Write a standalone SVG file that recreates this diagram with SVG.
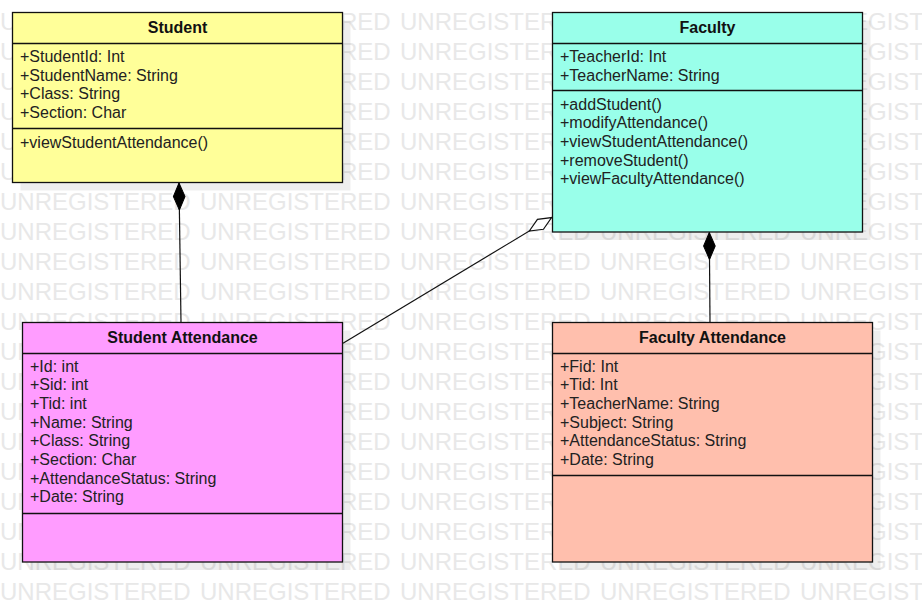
<svg xmlns="http://www.w3.org/2000/svg" width="922" height="612" viewBox="0 0 922 612">
<style>
.wm{font-family:"Liberation Sans",Arial,sans-serif;font-size:24px;fill:#e8e8e8}
.box{stroke:#111;stroke-width:1.3}
.shadow{fill:#000;fill-opacity:0.065}
.div{stroke:#111;stroke-width:1.3}
.title{font-family:"Liberation Sans",Arial,sans-serif;font-size:16px;font-weight:bold;fill:#111;text-anchor:middle}
.attr{font-family:"Liberation Sans",Arial,sans-serif;font-size:16px;fill:#222}
.conn{stroke:#111;stroke-width:1.2;fill:none}
</style>
<defs>
<marker id="filledDiamond" viewBox="0 -7 28 14" refX="27" refY="0" markerWidth="28" markerHeight="14" markerUnits="userSpaceOnUse" orient="auto">
<path d="M0,0 L13.5,-5.8 L27,0 L13.5,5.8 Z" fill="#000" stroke="#000" stroke-width="1"/>
</marker>
<marker id="hollowDiamond" viewBox="0 -7 28 14" refX="27" refY="0" markerWidth="28" markerHeight="14" markerUnits="userSpaceOnUse" orient="auto">
<path d="M0.5,0 L13.5,-5.8 L26.5,0 L13.5,5.8 Z" fill="#fff" stroke="#111" stroke-width="1.2"/>
</marker>
</defs>
<rect width="922" height="612" fill="#fff"/>
<g id="watermark" class="wm">
<text y="29.5"><tspan x="0">UNREGISTERED</tspan><tspan x="200">UNREGISTERED</tspan><tspan x="400">UNREGISTERED</tspan><tspan x="600">UNREGISTERED</tspan><tspan x="800">UNREGISTERED</tspan></text>
<text y="59.5"><tspan x="0">UNREGISTERED</tspan><tspan x="200">UNREGISTERED</tspan><tspan x="400">UNREGISTERED</tspan><tspan x="600">UNREGISTERED</tspan><tspan x="800">UNREGISTERED</tspan></text>
<text y="89.5"><tspan x="0">UNREGISTERED</tspan><tspan x="200">UNREGISTERED</tspan><tspan x="400">UNREGISTERED</tspan><tspan x="600">UNREGISTERED</tspan><tspan x="800">UNREGISTERED</tspan></text>
<text y="119.5"><tspan x="0">UNREGISTERED</tspan><tspan x="200">UNREGISTERED</tspan><tspan x="400">UNREGISTERED</tspan><tspan x="600">UNREGISTERED</tspan><tspan x="800">UNREGISTERED</tspan></text>
<text y="149.5"><tspan x="0">UNREGISTERED</tspan><tspan x="200">UNREGISTERED</tspan><tspan x="400">UNREGISTERED</tspan><tspan x="600">UNREGISTERED</tspan><tspan x="800">UNREGISTERED</tspan></text>
<text y="179.5"><tspan x="0">UNREGISTERED</tspan><tspan x="200">UNREGISTERED</tspan><tspan x="400">UNREGISTERED</tspan><tspan x="600">UNREGISTERED</tspan><tspan x="800">UNREGISTERED</tspan></text>
<text y="209.5"><tspan x="0">UNREGISTERED</tspan><tspan x="200">UNREGISTERED</tspan><tspan x="400">UNREGISTERED</tspan><tspan x="600">UNREGISTERED</tspan><tspan x="800">UNREGISTERED</tspan></text>
<text y="239.5"><tspan x="0">UNREGISTERED</tspan><tspan x="200">UNREGISTERED</tspan><tspan x="400">UNREGISTERED</tspan><tspan x="600">UNREGISTERED</tspan><tspan x="800">UNREGISTERED</tspan></text>
<text y="269.5"><tspan x="0">UNREGISTERED</tspan><tspan x="200">UNREGISTERED</tspan><tspan x="400">UNREGISTERED</tspan><tspan x="600">UNREGISTERED</tspan><tspan x="800">UNREGISTERED</tspan></text>
<text y="299.5"><tspan x="0">UNREGISTERED</tspan><tspan x="200">UNREGISTERED</tspan><tspan x="400">UNREGISTERED</tspan><tspan x="600">UNREGISTERED</tspan><tspan x="800">UNREGISTERED</tspan></text>
<text y="329.5"><tspan x="0">UNREGISTERED</tspan><tspan x="200">UNREGISTERED</tspan><tspan x="400">UNREGISTERED</tspan><tspan x="600">UNREGISTERED</tspan><tspan x="800">UNREGISTERED</tspan></text>
<text y="359.5"><tspan x="0">UNREGISTERED</tspan><tspan x="200">UNREGISTERED</tspan><tspan x="400">UNREGISTERED</tspan><tspan x="600">UNREGISTERED</tspan><tspan x="800">UNREGISTERED</tspan></text>
<text y="389.5"><tspan x="0">UNREGISTERED</tspan><tspan x="200">UNREGISTERED</tspan><tspan x="400">UNREGISTERED</tspan><tspan x="600">UNREGISTERED</tspan><tspan x="800">UNREGISTERED</tspan></text>
<text y="419.5"><tspan x="0">UNREGISTERED</tspan><tspan x="200">UNREGISTERED</tspan><tspan x="400">UNREGISTERED</tspan><tspan x="600">UNREGISTERED</tspan><tspan x="800">UNREGISTERED</tspan></text>
<text y="449.5"><tspan x="0">UNREGISTERED</tspan><tspan x="200">UNREGISTERED</tspan><tspan x="400">UNREGISTERED</tspan><tspan x="600">UNREGISTERED</tspan><tspan x="800">UNREGISTERED</tspan></text>
<text y="479.5"><tspan x="0">UNREGISTERED</tspan><tspan x="200">UNREGISTERED</tspan><tspan x="400">UNREGISTERED</tspan><tspan x="600">UNREGISTERED</tspan><tspan x="800">UNREGISTERED</tspan></text>
<text y="509.5"><tspan x="0">UNREGISTERED</tspan><tspan x="200">UNREGISTERED</tspan><tspan x="400">UNREGISTERED</tspan><tspan x="600">UNREGISTERED</tspan><tspan x="800">UNREGISTERED</tspan></text>
<text y="539.5"><tspan x="0">UNREGISTERED</tspan><tspan x="200">UNREGISTERED</tspan><tspan x="400">UNREGISTERED</tspan><tspan x="600">UNREGISTERED</tspan><tspan x="800">UNREGISTERED</tspan></text>
<text y="569.5"><tspan x="0">UNREGISTERED</tspan><tspan x="200">UNREGISTERED</tspan><tspan x="400">UNREGISTERED</tspan><tspan x="600">UNREGISTERED</tspan><tspan x="800">UNREGISTERED</tspan></text>
<text y="599.5"><tspan x="0">UNREGISTERED</tspan><tspan x="200">UNREGISTERED</tspan><tspan x="400">UNREGISTERED</tspan><tspan x="600">UNREGISTERED</tspan><tspan x="800">UNREGISTERED</tspan></text>
</g>
<g id="shadows">
<rect class="shadow" x="20.5" y="20.5" width="330" height="170"/>
<rect class="shadow" x="560.5" y="20.5" width="310" height="219.5"/>
<rect class="shadow" x="30.5" y="330.5" width="320" height="239.5"/>
<rect class="shadow" x="560.5" y="330.5" width="320" height="239.5"/>
</g>
<g id="connectors">
<path class="conn" d="M181,322.5 L179,183" marker-end="url(#filledDiamond)"/>
<path class="conn" d="M710,322.5 L709.3,232.5" marker-end="url(#filledDiamond)"/>
<path class="conn" d="M343,343.3 L552,217.3" marker-end="url(#hollowDiamond)"/>
</g>
<g id="student">
<rect class="box" x="12.5" y="12.5" width="330" height="170" fill="#ffff99"/>
<line class="div" x1="12.5" y1="43.5" x2="342.5" y2="43.5"/>
<line class="div" x1="12.5" y1="128.5" x2="342.5" y2="128.5"/>
<text class="title" x="177.5" y="33">Student</text>
<text class="attr" x="20" y="62">+StudentId: Int</text>
<text class="attr" x="20" y="80.7">+StudentName: String</text>
<text class="attr" x="20" y="99.3">+Class: String</text>
<text class="attr" x="20" y="118">+Section: Char</text>
<text class="attr" x="20" y="147.5">+viewStudentAttendance()</text>
</g>
<g id="faculty">
<rect class="box" x="552.5" y="12.5" width="310" height="219.5" fill="#99ffea"/>
<line class="div" x1="552.5" y1="43.5" x2="862.5" y2="43.5"/>
<line class="div" x1="552.5" y1="90.5" x2="862.5" y2="90.5"/>
<text class="title" x="707.5" y="33">Faculty</text>
<text class="attr" x="560" y="62">+TeacherId: Int</text>
<text class="attr" x="560" y="80.7">+TeacherName: String</text>
<text class="attr" x="560" y="109.5">+addStudent()</text>
<text class="attr" x="560" y="128.2">+modifyAttendance()</text>
<text class="attr" x="560" y="146.9">+viewStudentAttendance()</text>
<text class="attr" x="560" y="165.6">+removeStudent()</text>
<text class="attr" x="560" y="184.3">+viewFacultyAttendance()</text>
</g>
<g id="student-attendance">
<rect class="box" x="22.5" y="322.5" width="320" height="239.5" fill="#ff9cff"/>
<line class="div" x1="22.5" y1="353.5" x2="342.5" y2="353.5"/>
<line class="div" x1="22.5" y1="513.5" x2="342.5" y2="513.5"/>
<text class="title" x="182.5" y="343">Student Attendance</text>
<text class="attr" x="30" y="371.7">+Id: int</text>
<text class="attr" x="30" y="390.4">+Sid: int</text>
<text class="attr" x="30" y="409">+Tid: int</text>
<text class="attr" x="30" y="427.7">+Name: String</text>
<text class="attr" x="30" y="446.4">+Class: String</text>
<text class="attr" x="30" y="465">+Section: Char</text>
<text class="attr" x="30" y="483.7">+AttendanceStatus: String</text>
<text class="attr" x="30" y="502.4">+Date: String</text>
</g>
<g id="faculty-attendance">
<rect class="box" x="552.5" y="322.5" width="320" height="239.5" fill="#ffbfad"/>
<line class="div" x1="552.5" y1="353.5" x2="872.5" y2="353.5"/>
<line class="div" x1="552.5" y1="475.5" x2="872.5" y2="475.5"/>
<text class="title" x="712.5" y="343">Faculty Attendance</text>
<text class="attr" x="560" y="371.7">+Fid: Int</text>
<text class="attr" x="560" y="390.4">+Tid: Int</text>
<text class="attr" x="560" y="409">+TeacherName: String</text>
<text class="attr" x="560" y="427.7">+Subject: String</text>
<text class="attr" x="560" y="446.4">+AttendanceStatus: String</text>
<text class="attr" x="560" y="465">+Date: String</text>
</g>
</svg>
